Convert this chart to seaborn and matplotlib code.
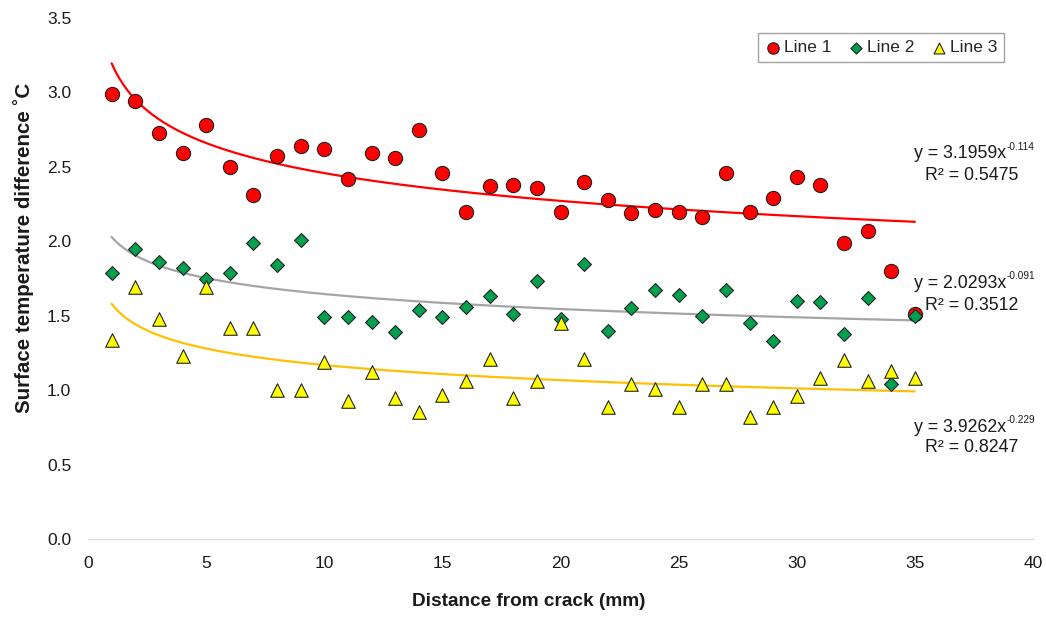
import numpy as np
import pandas as pd
import matplotlib
matplotlib.use("Agg")
import matplotlib.pyplot as plt
import seaborn as sns

# ---------------- data ----------------
distance = list(range(1, 36))

line1 = [2.99, 2.94, 2.73, 2.59, 2.78, 2.50, 2.31, 2.57, 2.64, 2.62,
         2.42, 2.59, 2.56, 2.75, 2.46, 2.20, 2.37, 2.38, 2.36, 2.20,
         2.40, 2.28, 2.19, 2.21, 2.20, 2.16, 2.46, 2.20, 2.29, 2.43,
         2.38, 1.99, 2.07, 1.80, 1.51]
line2 = [1.79, 1.95, 1.86, 1.82, 1.75, 1.79, 1.99, 1.84, 2.01, 1.49,
         1.49, 1.46, 1.39, 1.54, 1.49, 1.56, 1.63, 1.51, 1.73, 1.48,
         1.85, 1.40, 1.55, 1.67, 1.64, 1.50, 1.67, 1.45, 1.33, 1.60,
         1.59, 1.38, 1.62, 1.04, 1.50]
line3 = [1.34, 1.69, 1.48, 1.23, 1.69, 1.42, 1.42, 1.00, 1.00, 1.19,
         0.93, 1.12, 0.95, 0.85, 0.97, 1.06, 1.21, 0.95, 1.06, 1.45,
         1.21, 0.89, 1.04, 1.01, 0.89, 1.04, 1.04, 0.82, 0.89, 0.96,
         1.08, 1.20, 1.06, 1.13, 1.08]

series_names = ["Line 1", "Line 2", "Line 3"]
# power trend curves as drawn in the chart (y = a * x^b)
curve_a = [3.1959, 2.0293, 1.58]
curve_b = [-0.114, -0.091, -0.131]
# equation labels as printed in the chart
label_a = ["3.1959", "2.0293", "3.9262"]
label_b = ["-0.114", "-0.091", "-0.229"]
label_r2 = ["0.5475", "0.3512", "0.8247"]

x_ticks = [0, 5, 10, 15, 20, 25, 30, 35, 40]
y_ticks = [0.0, 0.5, 1.0, 1.5, 2.0, 2.5, 3.0, 3.5]

# ---------------- style ----------------
sns.set_theme(style="white")
plt.rcParams["font.family"] = ["Liberation Sans", "DejaVu Sans"]

marker_colors = ["#ff0000", "#00a04f", "#ffff00"]
marker_shapes = ["o", "D", "^"]
marker_sizes = [105, 50, 95]
line_colors = ["#ff0000", "#a5a5a5", "#ffc000"]

W, H = 1046, 621
fig = plt.figure(figsize=(W / 100, H / 100), dpi=100)
ax = fig.add_axes([88 / W, 1 - 539 / H, (1033 - 88) / W, (539 - 18) / H])

values = [line1, line2, line3]
xfit = np.linspace(1, 35, 300)
for vals, a, b, lc in zip(values, curve_a, curve_b, line_colors):
    fit_df = pd.DataFrame({"x": xfit, "y": a * xfit ** b})
    sns.lineplot(data=fit_df, x="x", y="y", color=lc, linewidth=1.6, ax=ax,
                 legend=False, zorder=2)

for name, vals, mc, ms, sz in zip(series_names, values, marker_colors, marker_shapes, marker_sizes):
    df = pd.DataFrame({"x": distance, "y": vals})
    sns.scatterplot(data=df, x="x", y="y", color=mc, marker=ms, s=sz,
                    edgecolor="#222222", linewidth=0.8, ax=ax, label=name, zorder=3)

ax.set_xlim(0, 40)
ax.set_ylim(0, 3.5)
ax.set_xticks(x_ticks)
ax.set_yticks(y_ticks)
ax.set_xticklabels([str(t) for t in x_ticks])
ax.set_yticklabels([f"{t:.1f}" for t in y_ticks])
ax.tick_params(axis="both", length=0, labelsize=12.5, colors="#1a1a1a")
ax.tick_params(axis="x", pad=12)
ax.tick_params(axis="y", pad=12)

for side in ["left", "right", "top"]:
    ax.spines[side].set_visible(False)
ax.spines["bottom"].set_color("#dcdce8")
ax.spines["bottom"].set_linewidth(1.0)
ax.grid(False)

ax.set_xlabel("")
ax.set_ylabel("")
fig.text(529 / W, 1 - 602 / H, "Distance from crack (mm)", ha="center", va="center",
         fontsize=13.7, fontweight="bold", color="#1a1a1a")
fig.text(24 / W, 1 - 248 / H, "Surface temperature difference \u02daC", ha="center",
         va="center", rotation=90, fontsize=14.8, fontweight="bold", color="#1a1a1a")

# equation annotations: main part + small superscript
eq_pos = [(154, 176), (283, 305), (427, 448)]
eq_right = 1006
for (py1, py2), at, bt, r2 in zip(eq_pos, label_a, label_b, label_r2):
    fig.text(eq_right / W, 1 - py1 / H, f"y = {at}x", ha="right", va="center",
             fontsize=12.8, color="#1a1a1a")
    fig.text((eq_right + 1) / W, 1 - (py1 - 7) / H, bt, ha="left", va="center",
             fontsize=7.2, color="#1a1a1a")
    fig.text(972 / W, 1 - py2 / H, f"R² = {r2}", ha="center", va="center",
             fontsize=12.8, color="#1a1a1a")

leg = ax.legend(loc="upper right", bbox_to_anchor=(1004 / W, 1 - 33 / H),
                bbox_transform=fig.transFigure, ncol=3, frameon=True, fancybox=False,
                shadow=False, fontsize=12.5, handlelength=0.9, handletextpad=0.15,
                columnspacing=1.0, borderpad=0.4, borderaxespad=0, markerscale=0.8)
leg.get_frame().set_edgecolor("#8c8c8c")
leg.get_frame().set_linewidth(1.0)

fig.savefig("out.png", dpi=100)
